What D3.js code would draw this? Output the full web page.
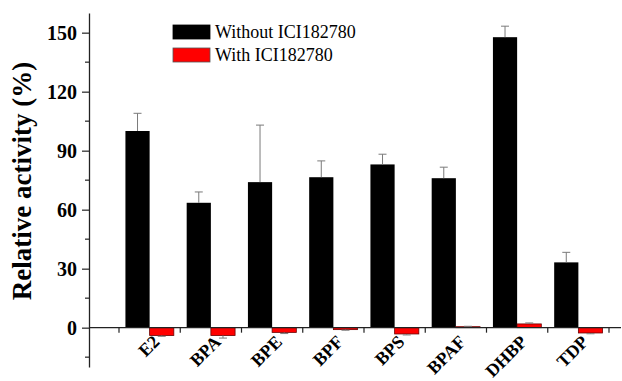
<!DOCTYPE html>
<html>
<head>
<meta charset="utf-8">
<script src="https://cdn.jsdelivr.net/npm/d3@7"></script>
<style>
  body { margin: 0; background: #fff; }
</style>
</head>
<body>
<div id="chart"></div>
<script>
// data
var categories = ["E2", "BPA", "BPE", "BPF", "BPS", "BPAF", "DHBP", "TDP"];
var withoutICI = [100, 63.5, 74, 76.5, 83, 76, 147.7, 33.2];
var withoutErr = [9, 5.5, 29, 8.3, 5.2, 5.6, 5.6, 5.1];
var withICI = [-4, -4, -2.4, -1, -3.2, 0.5, 1.9, -2.7];
var withErr = [0.4, 1.3, 0.6, 0.3, 0.5, 0.2, 0.5, 0.4];
var majorTicks = [0, 30, 60, 90, 120, 150];
var minorTicks = [-15, 15, 45, 75, 105, 135];
var seriesNames = ["Without ICI182780", "With ICI182780"];

var W = 622, H = 381;
var serif = "'Liberation Serif', 'Times New Roman', serif";

var svg = d3.select("#chart")
  .append("svg")
    .attr("width", W)
    .attr("height", H);

// scales
var y = d3.scaleLinear()
  .domain([-20, 160])
  .range([367, 13]);

var x = d3.scaleBand()
  .domain(categories)
  .range([119, 609])
  .paddingInner(0.21)
  .paddingOuter(0.105);

var sub = d3.scaleBand()
  .domain([0, 1])
  .range([0, x.bandwidth()]);

var axisX0 = 89, axisX1 = 621;

// bars - without
svg.selectAll(".bar0")
  .data(categories)
  .enter()
  .append("rect")
    .attr("x", function(d) { return x(d) + sub(0); })
    .attr("y", function(d, i) { return y(Math.max(0, withoutICI[i])); })
    .attr("width", sub.bandwidth())
    .attr("height", function(d, i) { return Math.abs(y(withoutICI[i]) - y(0)); })
    .attr("fill", "#000");

// bars - with
svg.selectAll(".bar1")
  .data(categories)
  .enter()
  .append("rect")
    .attr("x", function(d) { return x(d) + sub(1); })
    .attr("y", function(d, i) { return y(Math.max(0, withICI[i])); })
    .attr("width", sub.bandwidth())
    .attr("height", function(d, i) { return Math.abs(y(withICI[i]) - y(0)); })
    .attr("fill", "#ff0000")
    .attr("stroke", "#6b0000")
    .attr("stroke-width", 0.8);

// error bars (one-sided, away from zero)
function errBars(vals, errs, k) {
  var g = svg.append("g").attr("stroke", "#7a7a7a").attr("stroke-width", 1);
  categories.forEach(function(c, i) {
    var cx = x(c) + sub(k) + sub.bandwidth() / 2;
    var end = vals[i] >= 0 ? vals[i] + errs[i] : vals[i] - errs[i];
    g.append("line")
      .attr("x1", cx).attr("x2", cx)
      .attr("y1", y(vals[i])).attr("y2", y(end));
    g.append("line")
      .attr("x1", cx - 4).attr("x2", cx + 4)
      .attr("y1", y(end)).attr("y2", y(end));
  });
}
errBars(withoutICI, withoutErr, 0);
errBars(withICI, withErr, 1);

// y axis
var yAxis = svg.append("g")
  .attr("transform", "translate(" + axisX0 + ",0)")
  .call(d3.axisLeft(y).tickValues(majorTicks).tickSize(7).tickPadding(5).tickSizeOuter(0));
yAxis.select(".domain").attr("stroke", "#222").attr("stroke-width", 1.3);
yAxis.selectAll(".tick line").attr("stroke", "#222").attr("stroke-width", 1.2);
yAxis.selectAll("text")
  .style("font-family", serif)
  .style("font-weight", "bold")
  .style("font-size", "20px")
  .attr("fill", "#000");

svg.append("g")
  .selectAll("line")
  .data(minorTicks)
  .enter()
  .append("line")
    .attr("x1", axisX0 - 4).attr("x2", axisX0)
    .attr("y1", function(d) { return y(d); })
    .attr("y2", function(d) { return y(d); })
    .attr("stroke", "#222")
    .attr("stroke-width", 1.2);

// x axis line at zero
svg.append("line")
  .attr("x1", axisX0).attr("x2", axisX1)
  .attr("y1", y(0)).attr("y2", y(0))
  .attr("stroke", "#222")
  .attr("stroke-width", 1.3);

// x ticks between groups
var xTicks = categories.map(function(c) { return x(c) - x.step() * x.paddingInner() / 2; });
xTicks.push(x.range()[1]);
svg.append("g")
  .selectAll("line")
  .data(xTicks)
  .enter()
  .append("line")
    .attr("x1", function(d) { return d; })
    .attr("x2", function(d) { return d; })
    .attr("y1", y(0)).attr("y2", y(0) + 5)
    .attr("stroke", "#222")
    .attr("stroke-width", 1.2);

// x labels rotated
svg.append("g")
  .selectAll("text")
  .data(categories)
  .enter()
  .append("text")
    .attr("transform", function(d) {
      var px = x(d) + x.bandwidth() / 2 + 11;
      return "translate(" + px + ",343)rotate(-45)";
    })
    .attr("text-anchor", "end")
    .style("font-family", serif)
    .style("font-weight", "bold")
    .style("font-size", "18px")
    .text(function(d) { return d; });

// y axis title
svg.append("text")
  .attr("transform", "translate(31,181)rotate(-90)")
  .attr("text-anchor", "middle")
  .style("font-family", serif)
  .style("font-weight", "bold")
  .style("font-size", "27px")
  .text("Relative activity (%)");

// legend
var legendFill = ["#000", "#ff0000"];
var legend = svg.append("g");
seriesNames.forEach(function(name, i) {
  legend.append("rect")
    .attr("x", 173).attr("y", 25 + i * 23)
    .attr("width", 37).attr("height", 14)
    .attr("fill", legendFill[i])
    .attr("stroke", i === 0 ? "#000" : "#555")
    .attr("stroke-width", 0.8);
  legend.append("text")
    .attr("x", 215).attr("y", 38 + i * 23)
    .style("font-family", serif)
    .style("font-size", "18px")
    .text(name);
});
</script>
</body>
</html>
